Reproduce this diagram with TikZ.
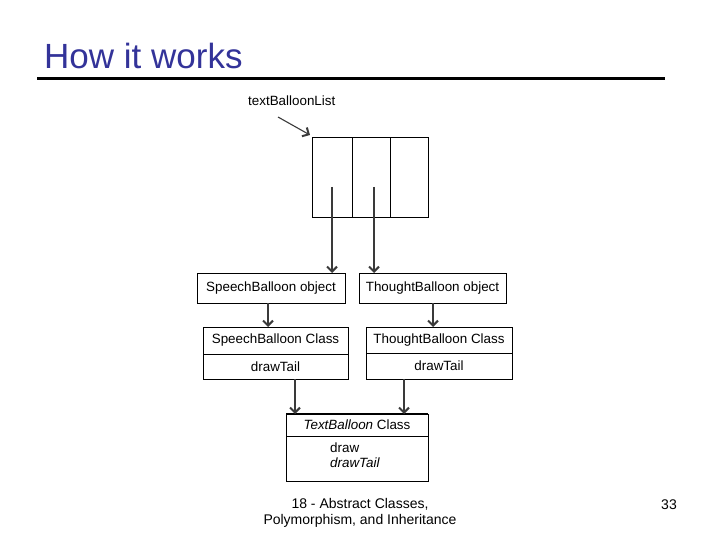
\documentclass[tikz,border=0pt]{standalone}
\usepackage{fontspec}
\setmainfont{Liberation Sans}
\usetikzlibrary{arrows.meta,calc}
\definecolor{titleblue}{HTML}{333399}
\definecolor{linegray}{HTML}{3A3A3A}
\begin{document}
\begin{tikzpicture}[x=1pt,y=-1pt,
  box/.style={draw=black,line width=0.8pt,rectangle,inner sep=0pt,outer sep=0pt,font=\fontsize{13.4}{15}\selectfont},
  arr/.style={draw=linegray,line width=1.1pt,-{Straight Barb[length=5pt,width=10pt,line width=2pt]},color=linegray},
  lbl/.style={font=\fontsize{13.4}{15}\selectfont,inner sep=0pt}]
\useasboundingbox (0,0) rectangle (720,540);
% title
\node[anchor=base west,inner sep=0pt,text=titleblue,font=\fontsize{35}{40}\selectfont] (title) at (44,69) {How it works};
\draw[line width=3pt] (37,79) -- (665,79);
% array
\node[box,minimum width=40pt,minimum height=80pt] (c1) at (332,177) {};
\node[box,minimum width=38pt,minimum height=80pt] (c2) at (371,177) {};
\node[box,minimum width=38pt,minimum height=80pt] (c3) at (409,177) {};
\coordinate (p1) at (332,187);
\coordinate (p2) at (374,187);
% label
\node[lbl,anchor=base west] (lab) at (248,106) {textBalloonList};
\coordinate (ls) at (278,117);
\draw[arr] (ls) -- ($(c1.north west)+(-2,-2)$);
% object boxes
\node[box,minimum width=148pt,minimum height=30pt] (so) at (271,288) {SpeechBalloon object};
\node[box,minimum width=147pt,minimum height=30pt] (to) at (432.5,288) {ThoughtBalloon object};
\draw[arr] (p1) -- (p1 |- so.north);
\draw[arr] (p2) -- (p2 |- to.north);
% class boxes
\node[box,minimum width=145pt,minimum height=27pt] (sct) at (275.5,340.5) {SpeechBalloon Class};
\node[box,minimum width=145pt,minimum height=25pt,anchor=north] (scm) at (sct.south) {drawTail};
\node[box,minimum width=146pt,minimum height=26pt] (tct) at (439,340) {ThoughtBalloon Class};
\node[box,minimum width=146pt,minimum height=26pt,anchor=north] (tcm) at (tct.south) {drawTail};
\draw[arr] ($(so.south)+(-3,0)$) -- ($(sct.north)+(-7.5,0)$);
\draw[arr] ($(to.south)+(0.5,0)$) -- ($(tct.north)+(-6,0)$);
% TextBalloon class
\node[box,minimum width=142pt,minimum height=22pt] (tbt) at (357,425) {\textit{TextBalloon} Class};
\draw[line width=1.6pt] (tbt.north west) -- (tbt.north east);
\node[box,minimum width=142pt,minimum height=45pt,anchor=north] (tbm) at (tbt.south) {};
\node[lbl,anchor=base west] (m1) at (330,452) {draw};
\node[lbl,anchor=base west] (m2) at (330,467) {\textit{drawTail}};
\draw[arr] ($(scm.south)+(19.5,0)$) -- ($(tbt.north)+(-62,0)$);
\draw[arr] ($(tcm.south)+(-35,0)$) -- ($(tbt.north)+(47,0)$);
% footer
\node[align=center,inner sep=0pt,font=\fontsize{14}{16}\selectfont] (foot) at (360,513) {18 - Abstract Classes,\\Polymorphism, and Inheritance};
\node[inner sep=0pt,font=\fontsize{14}{16}\selectfont] (pg) at (669,505) {33};
\end{tikzpicture}
\end{document}
